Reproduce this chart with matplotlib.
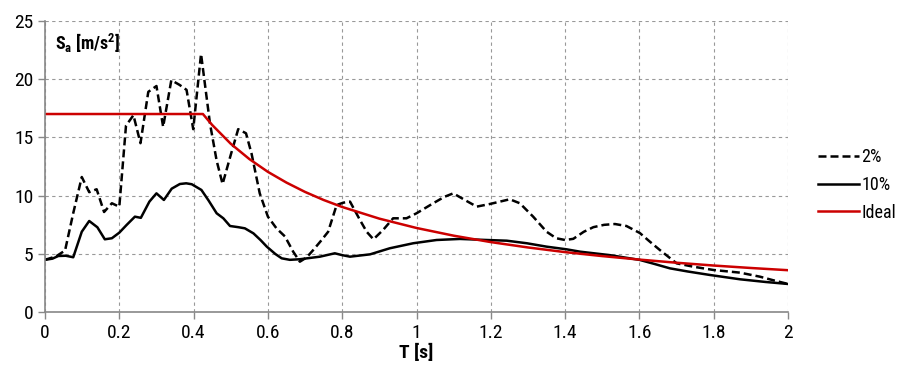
import matplotlib
matplotlib.use("Agg")
import matplotlib.pyplot as plt
from matplotlib import font_manager

# values
t_2 = [0.0, 0.03, 0.054, 0.076, 0.099, 0.119, 0.139, 0.159, 0.18, 0.2, 0.218,
       0.238, 0.257, 0.278, 0.3, 0.318, 0.34, 0.362, 0.381, 0.399, 0.42, 0.444,
       0.462, 0.478, 0.5, 0.52, 0.541, 0.556, 0.578, 0.6, 0.623, 0.646, 0.668,
       0.686, 0.704, 0.722, 0.742, 0.762, 0.785, 0.803, 0.821, 0.848, 0.866,
       0.884, 0.91, 0.937, 0.973, 1.0, 1.045, 1.075, 1.099, 1.13, 1.162, 1.198,
       1.251, 1.278, 1.314, 1.35, 1.376, 1.4, 1.422, 1.45, 1.476, 1.505, 1.534,
       1.565, 1.601, 1.628, 1.655, 1.7, 1.745, 1.799, 1.871, 1.925, 1.96, 2.0]
sa_2 = [4.5, 4.8, 5.3, 8.5, 11.6, 10.3, 10.55, 8.6, 9.35, 9.05, 16.0,
        16.9, 14.5, 18.9, 19.4, 15.9, 19.9, 19.5, 19.07, 15.7, 22.15, 16.2,
        13.0, 11.0, 13.5, 15.7, 15.35, 13.6, 10.2, 8.2, 7.2, 6.5, 5.2,
        4.34, 4.7, 5.34, 6.1, 6.9, 9.2, 9.4, 9.49, 7.9, 6.9,
        6.26, 7.06, 8.06, 8.06, 8.49, 9.35, 9.9, 10.2, 9.63, 9.06, 9.29,
        9.69, 9.35, 8.2, 6.91, 6.35, 6.2, 6.3, 6.9, 7.3, 7.5, 7.57,
        7.4, 6.8, 6.06, 5.34, 4.2, 3.91, 3.63, 3.4, 3.05, 2.75, 2.43]

t_10 = [0.0, 0.02, 0.036, 0.056, 0.076, 0.099, 0.119, 0.141, 0.161, 0.18, 0.2,
        0.22, 0.242, 0.258, 0.281, 0.3, 0.32, 0.341, 0.363, 0.38, 0.395, 0.421,
        0.44, 0.462, 0.48, 0.498, 0.52, 0.538, 0.561, 0.58, 0.597, 0.62, 0.637,
        0.659, 0.686, 0.74, 0.78, 0.8, 0.821, 0.875, 0.928, 0.991, 1.054,
        1.117, 1.189, 1.243, 1.297, 1.35, 1.404, 1.44, 1.521, 1.601, 1.64,
        1.682, 1.73, 1.79, 1.871, 1.94, 2.0]
sa_10 = [4.5, 4.6, 4.83, 4.85, 4.72, 6.91, 7.83, 7.29, 6.26, 6.35, 6.83,
         7.5, 8.2, 8.1, 9.49, 10.2, 9.63, 10.6, 11.0, 11.06, 10.98, 10.49,
         9.6, 8.49, 8.06, 7.4, 7.3, 7.2, 6.77, 6.2, 5.63, 5.0, 4.63,
         4.5, 4.55, 4.77, 5.06, 4.9, 4.77, 4.97, 5.49, 5.92, 6.2,
         6.29, 6.2, 6.14, 5.92, 5.63, 5.4, 5.2, 4.9, 4.49, 4.15,
         3.77, 3.5, 3.2, 2.83, 2.6, 2.43]

t_ideal = [0.0, 0.425, 0.45, 0.5, 0.55, 0.6, 0.65, 0.7, 0.75, 0.8, 0.9, 1.0,
           1.1, 1.2, 1.3, 1.4, 1.5, 1.6, 1.7, 1.8, 1.9, 2.0]
sa_ideal = [17.0, 17.0, 16.06, 14.45, 13.14, 12.04, 11.12, 10.32, 9.63, 9.03,
            8.03, 7.23, 6.57, 6.02, 5.56, 5.16, 4.82, 4.52, 4.25, 4.01, 3.8, 3.61]

# narrow font if there is one, like the Arial Narrow of the original
names = {f.name for f in font_manager.fontManager.ttflist}
narrow = None
for n in ["Liberation Sans Narrow", "Arial Narrow", "Roboto Condensed", "Open Sans Condensed"]:
    if n in names:
        narrow = n
        break
if narrow:
    plt.rcParams["font.family"] = [narrow, "DejaVu Sans"]
    fs = 14
else:
    plt.rcParams["font.family"] = ["DejaVu Sans"]
    plt.rcParams["font.stretch"] = "condensed"
    fs = 13

fig = plt.figure(figsize=(9, 3.67), dpi=100)
ax = fig.add_axes([0.05, 0.149, 0.8256, 0.7946])

ax.plot(t_2, sa_2, color="black", lw=1.8, ls=(0, (3.2, 1.6)), label="2%")
ax.plot(t_10, sa_10, color="black", lw=1.8, label="10%")
ax.plot(t_ideal, sa_ideal, color="#cc0000", lw=1.8, label="Ideal")

ax.set_xlim(0, 2)
ax.set_ylim(0, 25)
ax.set_xticks([0, 0.2, 0.4, 0.6, 0.8, 1, 1.2, 1.4, 1.6, 1.8, 2])
ax.set_xticklabels(["0", "0.2", "0.4", "0.6", "0.8", "1", "1.2", "1.4", "1.6", "1.8", "2"])
ax.set_yticks([0, 5, 10, 15, 20, 25])
ax.tick_params(labelsize=fs, color="#888888", length=5, width=1)

ax.grid(True, color="#999999", ls=(0, (3, 3)), lw=0.8)
for s in ["top", "right"]:
    ax.spines[s].set_visible(False)
for s in ["left", "bottom"]:
    ax.spines[s].set_color("#888888")
    ax.spines[s].set_linewidth(1.2)

ax.set_xlabel("T [s]", fontsize=fs, fontweight="bold", labelpad=1)
ax.text(0.014, 0.96, r"S$_\mathregular{a}$ [m/s$^\mathregular{2}$]", transform=ax.transAxes,
        fontsize=fs - 1, fontweight="bold", va="top", ha="left")

leg = ax.legend(loc="center left", bbox_to_anchor=(1.04, 0.437), frameon=False,
                fontsize=fs - 1, handlelength=2.3, handletextpad=0.1, labelspacing=0.55,
                borderaxespad=0, borderpad=0)

fig.savefig("out.png", dpi=100)
